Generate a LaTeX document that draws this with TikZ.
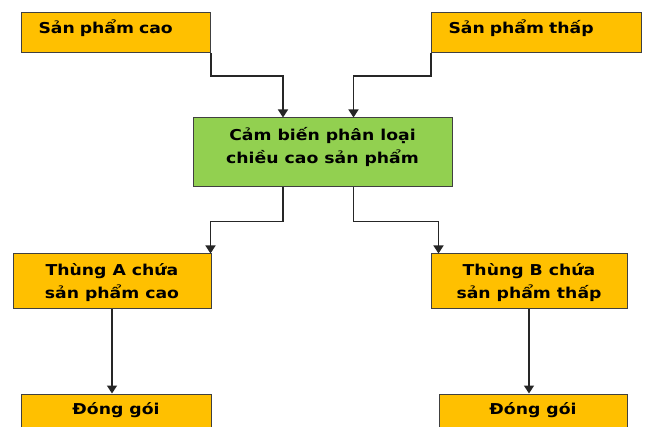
\documentclass[tikz,border=0pt]{standalone}
\usepackage{fontspec}
\setmainfont{DejaVu Sans}[FakeStretch=1.15]
\usetikzlibrary{arrows.meta,positioning}
\definecolor{gold}{HTML}{FFC000}
\definecolor{leaf}{HTML}{92D050}
\definecolor{rim}{HTML}{404040}
\definecolor{wire}{HTML}{262626}

\begin{document}
\begin{tikzpicture}[x=1pt,y=-1pt,>={Triangle[width=10pt,length=8pt]},
	every node/.style={font=\bfseries\fontsize{15}{23}\selectfont},
	box/.style={draw=rim,line width=1pt,fill=gold},
	topbox/.style={box,text width=#1,align=left,inner xsep=17pt,minimum height=40pt,text height=11pt,text depth=9pt},
	twobox/.style={box,align=center,inner sep=0pt,text height=39pt,text depth=4pt},
	onebox/.style={box,inner sep=0pt,minimum height=40pt,text height=10pt,text depth=10pt},
	wire/.style={->,draw=wire,line width=1.4pt}]
		\clip (0,0) rectangle (645,427);
		\fill[white] (0,0) rectangle (645,427);

		\node[topbox=155pt] (spCao) [anchor=north west] at (21,12) {Sản phẩm cao};
		\node[topbox=176pt] (spThap) [anchor=north west] at (431,12) {Sản phẩm thấp};
		\node[box,fill=leaf,align=center,inner sep=0pt,minimum width=259pt,minimum height=69pt,text height=27pt,text depth=4pt] (sens) at (322.5,152.5) {Cảm biến phân loại\\chiều cao sản phẩm};
		\node[twobox,minimum width=198pt,minimum height=55pt] (thA) at (112,281.5) {Thùng A chứa\\sản phẩm cao};
		\node[twobox,minimum width=196pt,minimum height=55pt] (thB) at (529,281.5) {Thùng B chứa\\sản phẩm thấp};
		\node[onebox,minimum width=190pt] (dgA) [below=84pt of thA,xshift=4pt] {Đóng gói};
		\node[onebox,minimum width=188pt] (dgB) [below=84pt of thB,xshift=4pt] {Đóng gói};

		\draw[wire] (spCao.south east) -- ++(0,23) -| ([xshift=-39.5pt]sens.north);
		\draw[wire] (spThap.south west) -- ++(0,23) -| ([xshift=31pt]sens.north);
		\draw[wire] ([xshift=-39.5pt]sens.south) -- ++(0,34) -| ([xshift=-1pt]thA.north east);
		\draw[wire] ([xshift=31pt]sens.south) -- ++(0,34) -| ([xshift=8pt]thB.north west);
		\draw[wire] (thA.south) -- (thA.south |- dgA.north);
		\draw[wire] (thB.south) -- (thB.south |- dgB.north);
	\end{tikzpicture}
\end{document}
